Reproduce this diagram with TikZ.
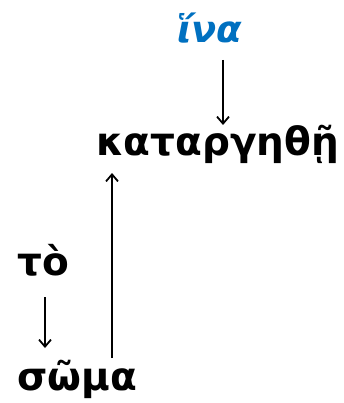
\documentclass[tikz,border=0pt]{standalone}
\usepackage{fontspec}
\setmainfont{DejaVu Sans}
\usetikzlibrary{arrows.meta}
\definecolor{wordblue}{RGB}{0,112,192}
\begin{document}
\begin{tikzpicture}[x=1pt,y=1pt,
  word/.style={anchor=base west,inner sep=0pt,font=\fontsize{39}{44}\selectfont\bfseries},
  arr/.style={draw=black,line width=2pt,-{Straight Barb[length=7pt,width=12pt,line width=1.8pt]}}]
\useasboundingbox (0,0) rectangle (343,-403);
\node[word,text=wordblue,font=\fontsize{37}{42}\selectfont\bfseries\itshape] (ina) at (177,-43) {ἵνα};
\node[word] (kat) at (96,-156) {καταργηθῇ};
\node[word] (to) at (17,-275) {τὸ};
\node[word] (soma) at (17,-390) {σῶμα};
\coordinate (xa) at (223,0);
\coordinate (xb) at (112,0);
\coordinate (xc) at (45,0);
\draw[arr] ([yshift=-17pt]ina.base -| xa) -- ([yshift=31pt]kat.base -| xa);
\draw[arr] ([yshift=32pt]soma.base -| xb) -- ([yshift=-17pt]kat.base -| xb);
\draw[arr] ([yshift=-22pt]to.base -| xc) -- ([yshift=42pt]soma.base -| xc);
\end{tikzpicture}
\end{document}
